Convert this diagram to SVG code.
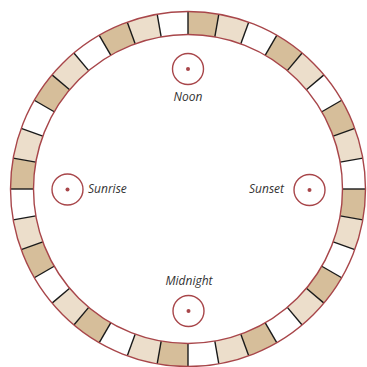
<svg xmlns="http://www.w3.org/2000/svg" xmlns:xlink="http://www.w3.org/1999/xlink" width="367" height="367" viewBox="0 0 367 367">
<style>
.t{fill:#d6be9a}.l{fill:#ecdecb}.w{fill:#ffffff}
.d{stroke:#1a1a1a;stroke-width:1.4}
.ring{fill:none;stroke:#a8464a;stroke-width:1.4}
.mk{fill:#fff;stroke:#a8464a;stroke-width:1.4}
.dot{fill:#a8464a}
.lb{font-family:"Open Sans",sans-serif;font-style:italic;font-size:12px;fill:#333}
</style>
<defs>
<path id="s" d="M0,-177.5 A177.5,177.5 0 0 1 30.823,-174.803 L26.829,-152.153 A154.5,154.5 0 0 0 0,-154.5 Z"/>
<line id="dv" class="d" x1="0" y1="-154.5" x2="0" y2="-177.5"/>
</defs>
<rect width="367" height="367" fill="#fff"/>
<g id="dial" transform="translate(188,189)">
<use href="#s" class="t" transform="rotate(0)"/><use href="#s" class="l" transform="rotate(10)"/><use href="#s" class="w" transform="rotate(20)"/>
<use href="#s" class="t" transform="rotate(30)"/><use href="#s" class="l" transform="rotate(40)"/><use href="#s" class="w" transform="rotate(50)"/>
<use href="#s" class="t" transform="rotate(60)"/><use href="#s" class="l" transform="rotate(70)"/><use href="#s" class="w" transform="rotate(80)"/>
<use href="#s" class="t" transform="rotate(90)"/><use href="#s" class="l" transform="rotate(100)"/><use href="#s" class="w" transform="rotate(110)"/>
<use href="#s" class="t" transform="rotate(120)"/><use href="#s" class="l" transform="rotate(130)"/><use href="#s" class="w" transform="rotate(140)"/>
<use href="#s" class="t" transform="rotate(150)"/><use href="#s" class="l" transform="rotate(160)"/><use href="#s" class="w" transform="rotate(170)"/>
<use href="#s" class="t" transform="rotate(180)"/><use href="#s" class="l" transform="rotate(190)"/><use href="#s" class="w" transform="rotate(200)"/>
<use href="#s" class="t" transform="rotate(210)"/><use href="#s" class="l" transform="rotate(220)"/><use href="#s" class="w" transform="rotate(230)"/>
<use href="#s" class="t" transform="rotate(240)"/><use href="#s" class="l" transform="rotate(250)"/><use href="#s" class="w" transform="rotate(260)"/>
<use href="#s" class="t" transform="rotate(270)"/><use href="#s" class="l" transform="rotate(280)"/><use href="#s" class="w" transform="rotate(290)"/>
<use href="#s" class="t" transform="rotate(300)"/><use href="#s" class="l" transform="rotate(310)"/><use href="#s" class="w" transform="rotate(320)"/>
<use href="#s" class="t" transform="rotate(330)"/><use href="#s" class="l" transform="rotate(340)"/><use href="#s" class="w" transform="rotate(350)"/>
<g id="dividers">
<use href="#dv" transform="rotate(0)"/><use href="#dv" transform="rotate(10)"/><use href="#dv" transform="rotate(20)"/><use href="#dv" transform="rotate(30)"/>
<use href="#dv" transform="rotate(40)"/><use href="#dv" transform="rotate(50)"/><use href="#dv" transform="rotate(60)"/><use href="#dv" transform="rotate(70)"/>
<use href="#dv" transform="rotate(80)"/><use href="#dv" transform="rotate(90)"/><use href="#dv" transform="rotate(100)"/><use href="#dv" transform="rotate(110)"/>
<use href="#dv" transform="rotate(120)"/><use href="#dv" transform="rotate(130)"/><use href="#dv" transform="rotate(140)"/><use href="#dv" transform="rotate(150)"/>
<use href="#dv" transform="rotate(160)"/><use href="#dv" transform="rotate(170)"/><use href="#dv" transform="rotate(180)"/><use href="#dv" transform="rotate(190)"/>
<use href="#dv" transform="rotate(200)"/><use href="#dv" transform="rotate(210)"/><use href="#dv" transform="rotate(220)"/><use href="#dv" transform="rotate(230)"/>
<use href="#dv" transform="rotate(240)"/><use href="#dv" transform="rotate(250)"/><use href="#dv" transform="rotate(260)"/><use href="#dv" transform="rotate(270)"/>
<use href="#dv" transform="rotate(280)"/><use href="#dv" transform="rotate(290)"/><use href="#dv" transform="rotate(300)"/><use href="#dv" transform="rotate(310)"/>
<use href="#dv" transform="rotate(320)"/><use href="#dv" transform="rotate(330)"/><use href="#dv" transform="rotate(340)"/><use href="#dv" transform="rotate(350)"/>
</g>
<circle class="ring" r="177.5"/>
<circle class="ring" r="154.5"/>
</g>
<g id="noon"><circle class="mk" cx="188" cy="69" r="15.5"/><circle class="dot" cx="188" cy="69" r="2"/><text class="lb" x="188" y="101" text-anchor="middle">Noon</text></g>
<g id="sunrise"><circle class="mk" cx="67.5" cy="189.5" r="15.5"/><circle class="dot" cx="67.5" cy="189.5" r="2"/><text class="lb" x="88" y="193">Sunrise</text></g>
<g id="sunset"><circle class="mk" cx="309.5" cy="190" r="15.5"/><circle class="dot" cx="309.5" cy="190" r="2"/><text class="lb" x="284" y="193" text-anchor="end">Sunset</text></g>
<g id="midnight"><circle class="mk" cx="188.5" cy="311" r="15.5"/><circle class="dot" cx="188.5" cy="311" r="2"/><text class="lb" x="189" y="285" text-anchor="middle">Midnight</text></g>
</svg>
